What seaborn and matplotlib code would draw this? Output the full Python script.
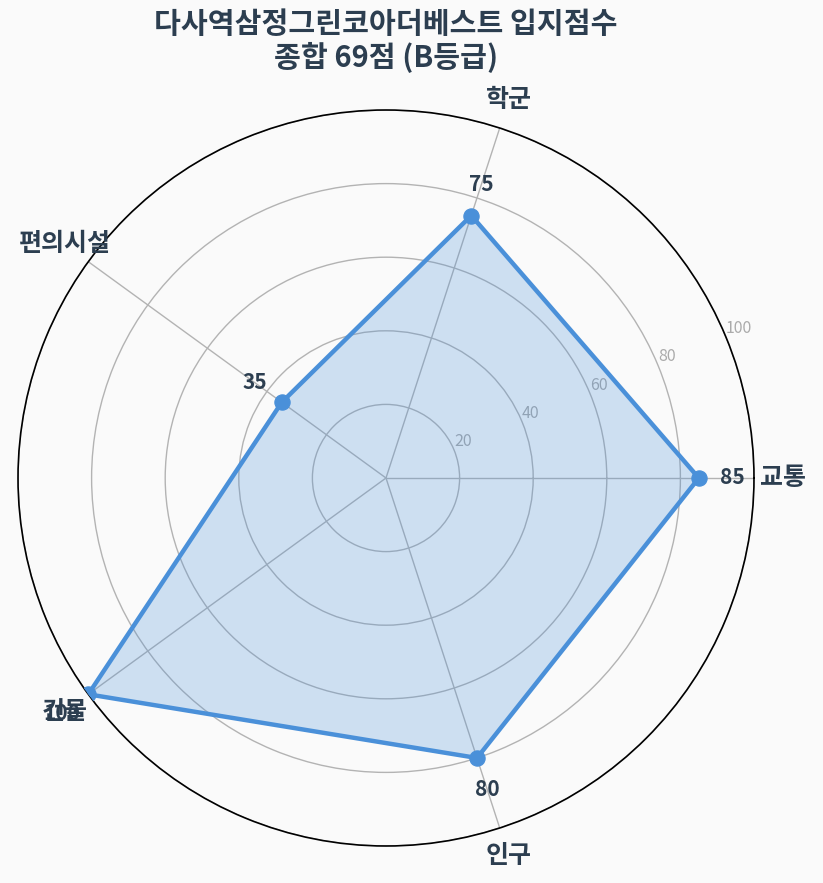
import numpy as np
import pandas as pd
import seaborn as sns
import matplotlib.pyplot as plt

# 입지 점수 데이터
categories = ['교통', '학군', '편의시설', '건물', '인구']
scores = [85, 75, 35, 100, 80]
r_ticks = [20, 40, 60, 80, 100]
title_lines = ['다사역삼정그린코아더베스트 입지점수', '종합 69점 (B등급)']

sns.set_theme(style='white')
plt.rcParams['font.family'] = ['Noto Sans CJK KR', 'DejaVu Sans']

text_color = '#2c3e50'
line_color = '#4a90d9'
bg = '#fafafa'

angles = np.linspace(0, 2 * np.pi, len(categories), endpoint=False)
df = pd.DataFrame({'angle': np.append(angles, angles[0] + 2 * np.pi),
                   'score': scores + scores[:1]})

fig = plt.figure(figsize=(8.23, 8.83), dpi=100, facecolor=bg)
ax = fig.add_axes([18 / 823, 37 / 883, 736 / 823, 736 / 883], projection='polar')
ax.set_facecolor(bg)

ax.fill(df['angle'], df['score'], color=line_color, alpha=0.25, zorder=2)
sns.lineplot(data=df, x='angle', y='score', sort=False, estimator=None,
             color=line_color, linewidth=3.2, ax=ax, zorder=3)
sns.scatterplot(x=angles, y=scores, color=line_color, s=120, edgecolor=line_color,
                ax=ax, zorder=4)

ax.set_ylim(0, 100)
ax.set_yticks(r_ticks)
ax.set_yticklabels([str(t) for t in r_ticks], color='#aaaaaa', fontsize=11.5)
ax.set_xticks(angles)
ax.set_xticklabels([])
ax.grid(True, color='#b3b3b3', linewidth=1)
ax.spines['polar'].set_color('black')
ax.spines['polar'].set_linewidth(1.2)
ax.set_xlabel('')
ax.set_ylabel('')

# 카테고리 라벨
for a, c in zip(angles, categories):
    ax.text(a, 108, c, ha='center', va='center', fontsize=18, fontweight='bold',
            color=text_color, clip_on=False)

# 값 라벨
for a, v in zip(angles, scores):
    ax.text(a, v + 9, f'{v}', ha='center', va='center', fontsize=15, fontweight='bold',
            color=text_color, clip_on=False)

fig.text(386 / 823, 1 - 41 / 883, '\n'.join(title_lines), ha='center', va='center',
         fontsize=21, fontweight='bold', color=text_color, linespacing=1.15)

fig.savefig('out.png', dpi=100, facecolor=bg)
